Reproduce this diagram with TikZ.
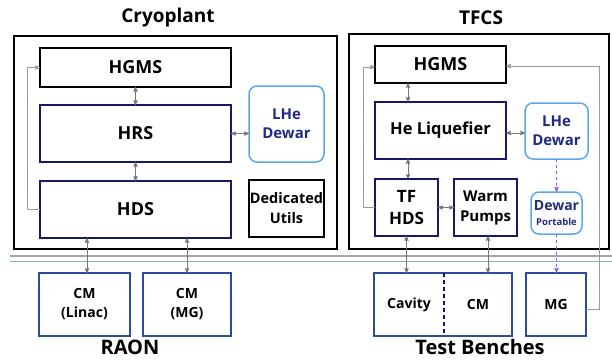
\documentclass[tikz,border=0pt]{standalone}
\usepackage{fontspec}
\setmainfont{Open Sans}
\usetikzlibrary{arrows}
\definecolor{navy}{HTML}{17176E}
\definecolor{dewarblue}{HTML}{5AA7EF}
\definecolor{dewartext}{HTML}{1F2A80}
\definecolor{benchblue}{HTML}{2B4AA0}
\definecolor{linkgray}{HTML}{777777}
\definecolor{loopgray}{HTML}{9A9A9A}
\definecolor{portpurple}{HTML}{8A5CE6}
\definecolor{septeal}{HTML}{7FBDB8}
\begin{document}
\begin{tikzpicture}[x=1pt,y=-1pt,>=stealth']
	\tikzstyle{every node}=[align=center,inner sep=0pt,outer sep=0pt]
	\tikzstyle{title}=[font=\fontsize{19}{22}\selectfont\bfseries]
	\tikzstyle{plain}=[rectangle,draw=black,line width=1.5pt,font=\fontsize{18}{21}\selectfont\bfseries]
	\tikzstyle{unit}=[rectangle,draw=navy,line width=2.2pt,font=\fontsize{18}{21}\selectfont\bfseries]
	\tikzstyle{dewar}=[rectangle,rounded corners=8pt,draw=dewarblue,line width=1.5pt,text=dewartext,font=\fontsize{15}{19}\selectfont\bfseries]
	\tikzstyle{bench}=[rectangle,draw=benchblue,line width=1.5pt,minimum height=63pt,font=\fontsize{14}{19}\selectfont\bfseries]
	\tikzstyle{link}=[<->,draw=linkgray,line width=0.8pt]
	\tikzstyle{loop}=[->,draw=loopgray,line width=0.8pt]
	\tikzstyle{portable}=[->,draw=portpurple,line width=0.9pt,dashed]
	\useasboundingbox (0,0) rectangle (612,359);

	\draw[line width=1.3pt] (14,36) rectangle (337,249);
	\draw[line width=1.3pt] (349,34) rectangle (609,249);
	\draw[draw=gray!70,line width=2pt] (10,256) -- (612,256);
	\draw[draw=septeal,line width=0.8pt] (10,261) -- (612,261);

	\node[title] (cryo) at (168,18) {Cryoplant};
	\node[title] (tfcs) at (481,18) {TFCS};
	\node[title,font=\fontsize{20}{23}\selectfont\bfseries] (raon) at (130,347) {RAON};
	\node[title,font=\fontsize{20}{23}\selectfont\bfseries] (benches) at (480,347) {Test Benches};

	\node[plain,minimum width=191pt,minimum height=39pt] (hgmsL) at (135.5,67.5) {HGMS};
	\node[unit,minimum width=191pt,minimum height=57pt] (hrs) at (135.5,133.5) {HRS};
	\node[unit,minimum width=191pt,minimum height=57pt] (hds) at (135.5,209.5) {HDS};
	\node[dewar,minimum width=75pt,minimum height=76pt] (dewarL) at (286.5,124) {LHe\\Dewar};
	\node[plain,minimum width=75pt,minimum height=57pt,font=\fontsize{14.5}{20}\selectfont\bfseries] (utils) at (286.5,208.5) {Dedicated\\Utils};

	\node[plain,minimum width=131pt,minimum height=37pt] (hgmsR) at (440.5,64.5) {HGMS};
	\node[unit,minimum width=131pt,minimum height=57pt,font=\fontsize{16.5}{20}\selectfont\bfseries] (heliq) at (440.5,130.5) {He Liquefier};
	\node[dewar,minimum width=63pt,minimum height=56pt] (dewarR) at (556.5,131) {LHe\\Dewar};
	\node[unit,minimum width=63pt,minimum height=57pt,font=\fontsize{17}{22}\selectfont\bfseries] (tfhds) at (406.5,207.5) {TF\\HDS};
	\node[unit,minimum width=63pt,minimum height=57pt,line width=1.8pt,font=\fontsize{15}{20}\selectfont\bfseries] (warm) at (485.5,207.5) {Warm\\Pumps};
	\node[dewar,minimum width=51pt,minimum height=42pt,font=\fontsize{14}{16}\selectfont\bfseries] (dewarP) at (556.5,213) {Dewar\\[-1pt]{\fontsize{9.5}{11}\selectfont Portable}};

	\node[bench,minimum width=91pt] (cml) at (84.5,304.5) {CM\\(Linac)};
	\node[bench,minimum width=88pt] (cmm) at (187,304.5) {CM\\(MG)};
	\node[minimum width=70pt,minimum height=63pt,font=\fontsize{14}{19}\selectfont\bfseries] (cav) at (409,304.5) {Cavity};
	\node[minimum width=68pt,minimum height=63pt,font=\fontsize{14}{19}\selectfont\bfseries] (cmt) at (478,304.5) {CM};
	\node[bench,minimum width=60pt] (mg) at (556,304.5) {MG};
	\draw[draw=benchblue,line width=1.5pt] (cav.north west) rectangle (cmt.south east);
	\draw[draw=navy,line width=1.1pt,dash pattern=on 4pt off 3pt] (cav.north east) -- (cav.south east);

	\draw[link] (hgmsL.south) -- (hrs.north);
	\draw[link] (hrs.south) -- (hds.north);
	\draw[link] (hrs.east) -- (hrs.east -| dewarL.west);
	\draw[loop] (hds.west) -- ++(-13,0) |- (hgmsL.west);
	\draw[link] (hds.south -| cml.north) ++(2.5,0) -- ([xshift=2.5pt]cml.north);
	\draw[link] (hds.south -| cmm.north) -- (cmm.north);

	\draw[link] (hgmsR.south -| tfhds.north) ++(1.5,0) -- ([xshift=1.5pt]heliq.north -| tfhds.north);
	\draw[link] ([xshift=1.5pt]heliq.south -| tfhds.north) -- ([xshift=1.5pt]tfhds.north);
	\draw[link] ([yshift=-2.5pt]heliq.east) -- ([yshift=-2.5pt]heliq.east -| dewarR.west);
	\draw[link] (tfhds.east) -- (warm.west);
	\draw[loop] (tfhds.west) -- ++(-12,0) |- ([yshift=-2.5pt]hgmsR.west);
	\draw[loop] ([yshift=-4.5pt]mg.east) -- ++(13,0) |- ([yshift=-1.5pt]hgmsR.east);
	\draw[portable] (dewarR.south) -- (dewarP.north);
	\draw[portable] (dewarP.south) -- (mg.north -| dewarP.south);
	\draw[link] (tfhds.south) -- (tfhds.south |- cav.north);
	\draw[link] ([xshift=2.5pt]warm.south) -- ([xshift=2.5pt]warm.south |- cmt.north);
\end{tikzpicture}
\end{document}
